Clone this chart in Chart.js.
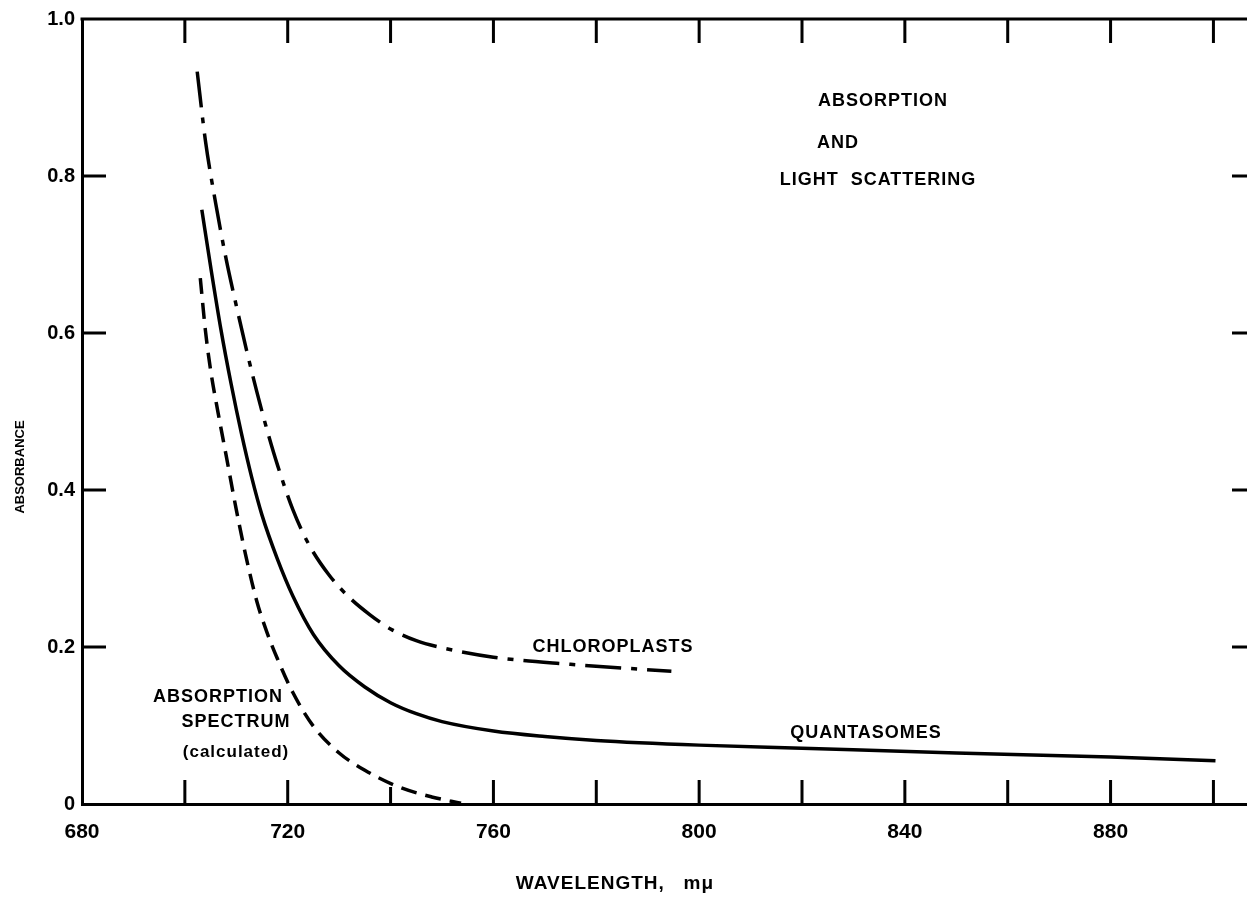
<!DOCTYPE html>
<html>
<head>
<meta charset="utf-8">
<script src="https://cdn.jsdelivr.net/npm/chart.js@4"></script>
<style>
    html, body { margin: 0; padding: 0; background: #fff; overflow: hidden; }
    #chart { display: block; }
</style>
</head>
<body>
<canvas id="chart" width="1252" height="903"></canvas>
<script>
// Curves (wavelength in mμ, absorbance)
const chloroWavelength = [702.4, 704, 706, 708, 710, 712, 714, 716, 718, 721, 724, 728, 732, 736, 740, 745, 750, 760, 775, 794.6];
const chloroAbsorbance = [0.933, 0.845, 0.765, 0.695, 0.635, 0.578, 0.525, 0.476, 0.432, 0.375, 0.332, 0.292, 0.263, 0.241, 0.223, 0.208, 0.199, 0.187, 0.178, 0.169];

const quantaWavelength = [703.3, 705, 707, 709, 711, 713, 715, 718, 721, 725, 730, 735, 740, 745, 750, 760, 770, 780, 800, 820, 850, 880, 900.4];
const quantaAbsorbance = [0.757, 0.685, 0.605, 0.535, 0.472, 0.416, 0.368, 0.312, 0.265, 0.216, 0.176, 0.149, 0.129, 0.115, 0.105, 0.093, 0.086, 0.081, 0.075, 0.071, 0.065, 0.060, 0.055];

const calcWavelength = [703.0, 704, 705, 706.5, 708, 710, 712, 714, 716, 718, 721, 725, 730, 735, 741.5, 748, 753.7];
const calcAbsorbance = [0.670, 0.603, 0.553, 0.497, 0.445, 0.375, 0.312, 0.258, 0.218, 0.185, 0.142, 0.099, 0.065, 0.043, 0.022, 0.009, 0.001];

const xTickMarks = [700, 720, 740, 760, 780, 800, 820, 840, 860, 880, 900];
const xTickLabels = [680, 720, 760, 800, 840, 880];
const yTickMarks = [0.2, 0.4, 0.6, 0.8];

const toPoints = (xs, ys) => xs.map((x, i) => ({ x: x, y: ys[i] }));

const FONT = '"Liberation Sans", Arial, sans-serif';

// Frame, inward tick marks and lettering
const figurePlugin = {
    id: 'figure',
    afterDraw(chart) {
        const ctx = chart.ctx;
        const area = chart.chartArea;
        const xs = chart.scales.x;
        const ys = chart.scales.y;
        ctx.save();
        ctx.strokeStyle = '#000';
        ctx.lineWidth = 3;
        ctx.beginPath();
        ctx.moveTo(area.left - 1.5, area.top);
        ctx.lineTo(area.right, area.top);
        ctx.stroke();

        xTickMarks.forEach(v => {
            const px = xs.getPixelForValue(v);
            ctx.beginPath();
            ctx.moveTo(px, area.top);
            ctx.lineTo(px, area.top + 24);
            ctx.moveTo(px, area.bottom);
            ctx.lineTo(px, area.bottom - (v === 740 ? 17 : 24));
            ctx.stroke();
        });
        yTickMarks.forEach(v => {
            const py = ys.getPixelForValue(v);
            ctx.beginPath();
            ctx.moveTo(area.left, py);
            ctx.lineTo(area.left + 24, py);
            ctx.moveTo(area.right, py);
            ctx.lineTo(area.right - 20, py);
            ctx.stroke();
        });

        ctx.fillStyle = '#000';
        ctx.textAlign = 'center';
        ctx.textBaseline = 'middle';
        ctx.letterSpacing = '1px';
        ctx.font = 'bold 18px ' + FONT;
        ctx.fillText('ABSORPTION', 883, 101);
        ctx.fillText('AND', 838, 143);
        ctx.fillText('LIGHT  SCATTERING', 878, 180);
        ctx.fillText('CHLOROPLASTS', 613, 647);
        ctx.fillText('QUANTASOMES', 866, 733);
        ctx.fillText('ABSORPTION', 218, 697);
        ctx.fillText('SPECTRUM', 236, 722);
        ctx.font = 'bold 17px ' + FONT;
        ctx.fillText('(calculated)', 236, 752);

        ctx.font = 'bold 19px ' + FONT;
        ctx.fillText('WAVELENGTH,   mμ', 615, 884);

        ctx.letterSpacing = '0px';
        ctx.font = 'bold 13px ' + FONT;
        ctx.translate(20, 467);
        ctx.rotate(-Math.PI / 2);
        ctx.fillText('ABSORBANCE', 0, 0);
        ctx.restore();
    }
};

new Chart(document.getElementById('chart'), {
    type: 'line',
    data: {
        datasets: [
            {
                label: 'Chloroplasts',
                data: toPoints(chloroWavelength, chloroAbsorbance),
                borderColor: '#000',
                borderWidth: 3.5,
                borderDash: [36, 10, 6, 10],
                cubicInterpolationMode: 'monotone',
                pointRadius: 0
            },
            {
                label: 'Quantasomes',
                data: toPoints(quantaWavelength, quantaAbsorbance),
                borderColor: '#000',
                borderWidth: 3.5,
                cubicInterpolationMode: 'monotone',
                pointRadius: 0
            },
            {
                label: 'Absorption spectrum (calculated)',
                data: toPoints(calcWavelength, calcAbsorbance),
                borderColor: '#000',
                borderWidth: 3.5,
                borderDash: [16, 9],
                cubicInterpolationMode: 'monotone',
                pointRadius: 0
            }
        ]
    },
    options: {
        responsive: false,
        animation: false,
        layout: { padding: { top: 17, right: 0, left: 0, bottom: 0 } },
        plugins: {
            legend: { display: false },
            tooltip: { enabled: false }
        },
        scales: {
            x: {
                type: 'linear',
                min: 680,
                max: 907.5,
                afterFit: scale => { scale.height = 99; },
                afterBuildTicks: scale => {
                    scale.ticks = xTickLabels.map(v => ({ value: v }));
                },
                ticks: {
                    color: '#000',
                    padding: 16,
                    maxRotation: 0,
                    autoSkip: false,
                    font: { family: FONT, size: 21, weight: 'bold' },
                    callback: v => String(v)
                },
                grid: { drawOnChartArea: false, drawTicks: false },
                border: { display: true, color: '#000', width: 3 }
            },
            y: {
                min: 0,
                max: 1,
                afterFit: scale => { scale.width = 82; },
                ticks: {
                    stepSize: 0.2,
                    color: '#000',
                    padding: 7,
                    font: { family: FONT, size: 20, weight: 'bold' },
                    callback: v => v === 0 ? '0' : v.toFixed(1)
                },
                grid: { drawOnChartArea: false, drawTicks: false },
                border: { display: true, color: '#000', width: 3 }
            }
        }
    },
    plugins: [figurePlugin]
});
</script>
</body>
</html>
